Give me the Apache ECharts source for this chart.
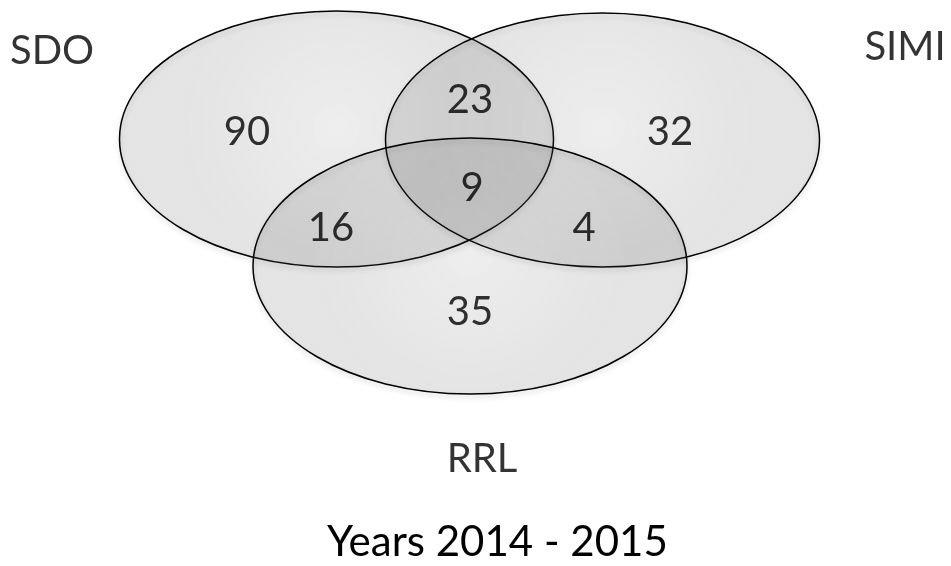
<!DOCTYPE html>
<html>
<head>
<meta charset="utf-8">
<script src="https://cdn.jsdelivr.net/npm/echarts@6/dist/echarts.min.js"></script>
<style>
  html, body { margin: 0; padding: 0; background: #fff; }
  #chart { width: 951px; height: 566px; }
</style>
</head>
<body>
<div id="chart"></div>
<script>
// counts per region of the diagram
const regions = ['SDO', 'SIMI', 'RRL', 'SDO+SIMI', 'SDO+RRL', 'SIMI+RRL', 'SDO+SIMI+RRL'];
const counts = [90, 32, 35, 23, 16, 4, 9];
const sets = ['SDO', 'SIMI', 'RRL'];
const titleText = 'Years 2014 - 2015';

// layout (in axis units) - centre x, centre y, radius x, radius y
const setShapes = [
    [336.5, 139, 217, 128],
    [602.5, 140, 217, 127],
    [470, 266, 217, 128]
];
const setLabelAt = [[52, 51], [905, 47], [482, 459]];
const regionLabelAt = [[247, 132], [670, 132], [470, 312], [470, 100], [331, 228], [584, 228], [472, 188]];

const font = 'Lato, "Open Sans", sans-serif';

const chart = echarts.init(document.getElementById('chart'));

const option = {
    animation: false,
    title: {
        text: titleText,
        left: 322,
        top: 516,
        textStyle: { fontFamily: font, fontSize: 42, fontWeight: 'normal', color: '#000' }
    },
    grid: { left: 0, right: 0, top: 0, bottom: 0 },
    xAxis: { type: 'value', min: 0, max: 951, show: false },
    yAxis: { type: 'value', min: 0, max: 566, inverse: true, show: false },
    series: [
        {
            // the three sets
            type: 'custom',
            data: setShapes.map(function (s, i) { return { name: sets[i], value: s }; }),
            renderItem: function (params, api) {
                const c = api.coord([api.value(0), api.value(1)]);
                const sz = api.size([api.value(2), api.value(3)]);
                return {
                    type: 'ellipse',
                    shape: { cx: c[0], cy: c[1], rx: sz[0], ry: sz[1] },
                    style: {
                        fill: {
                            type: 'radial', x: 0.5, y: 0.45, r: 0.6,
                            colorStops: [
                                { offset: 0, color: 'rgba(100,100,100,0.09)' },
                                { offset: 1, color: 'rgba(100,100,100,0.14)' }
                            ]
                        },
                        stroke: '#000',
                        lineWidth: 1.5,
                        shadowBlur: 5,
                        shadowOffsetY: 3,
                        shadowColor: 'rgba(0,0,0,0.18)'
                    }
                };
            }
        },
        {
            // set names
            type: 'scatter',
            symbolSize: 0,
            data: setLabelAt.map(function (p, i) { return { name: sets[i], value: p }; }),
            label: {
                show: true,
                position: 'inside',
                formatter: '{b}',
                fontFamily: font,
                fontSize: 40,
                color: '#000'
            }
        },
        {
            // region counts
            type: 'scatter',
            symbolSize: 0,
            data: regionLabelAt.map(function (p, i) {
                return { name: regions[i], value: p.concat(counts[i]) };
            }),
            label: {
                show: true,
                position: 'inside',
                formatter: function (p) { return p.value[2]; },
                fontFamily: font,
                fontSize: 40,
                color: '#000'
            }
        }
    ]
};

chart.setOption(option);
</script>
</body>
</html>
